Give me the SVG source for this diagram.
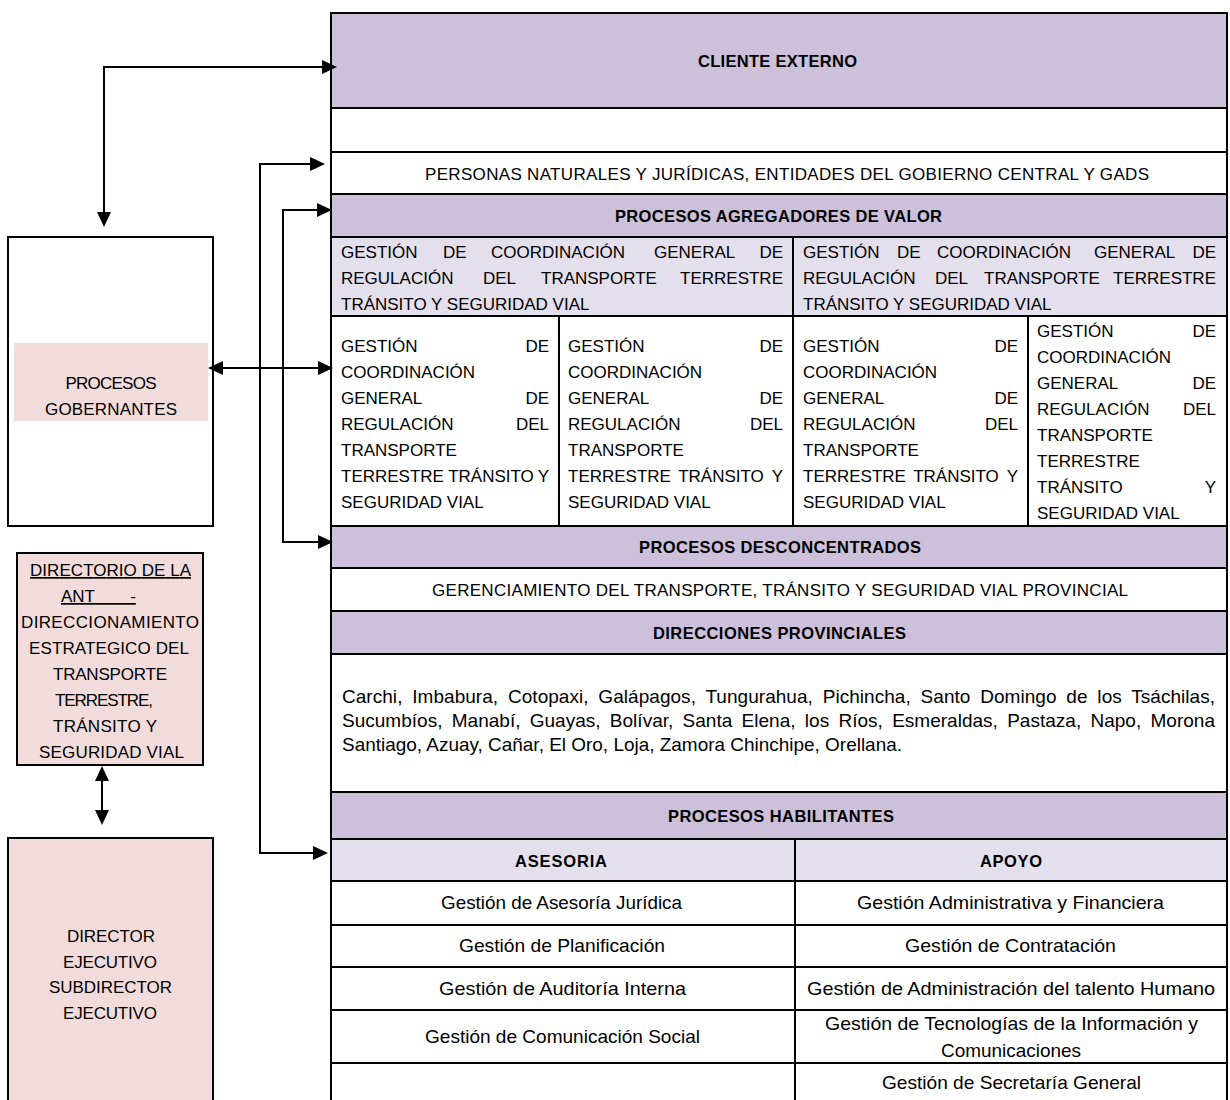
<svg xmlns="http://www.w3.org/2000/svg" width="1230" height="1100" viewBox="0 0 1230 1100">
<defs>
<style>
.t{font-family:"Liberation Sans",Arial,sans-serif;font-size:17px;fill:#000}
.s{font-size:19px}
.b{font-weight:bold;font-size:16.5px}
.m{text-anchor:middle}
.e{text-anchor:end}
.u{text-decoration:underline}
.ln{stroke:#000;stroke-width:2;fill:none}
.pu{fill:#CCC0DA}
.lv{fill:#E4DFEC}
.pk{fill:#F2DCDB}
.wh{fill:#FFFFFF}
</style>
<marker id="ah" markerUnits="userSpaceOnUse" viewBox="0 0 15 14" markerWidth="15" markerHeight="14" refX="11" refY="7" orient="auto-start-reverse"><path d="M0,0 L15,7 L0,14 Z" fill="#000"/></marker>
</defs>
<rect width="1230" height="1100" fill="#FFFFFF"/>

<!-- Left nodes -->
<g id="procesos-gobernantes">
<rect x="8" y="237" width="205" height="289" class="wh ln"/>
<rect x="14" y="343" width="194" height="78" class="pk"/>
<text class="t m" x="111" y="389" textLength="91">PROCESOS</text>
<text class="t m" x="111" y="415" textLength="132">GOBERNANTES</text>
</g>

<g id="directorio">
<rect x="17" y="553" width="186" height="212" class="pk ln"/>
<text class="t m u" x="110.5" y="576" textLength="161">DIRECTORIO DE LA</text>
<text class="t u" x="61" y="602" word-spacing="13" style="white-space:pre">ANT  -</text>
<text class="t m" x="110" y="628" textLength="178">DIRECCIONAMIENTO</text>
<text class="t m" x="109" y="654" textLength="160">ESTRATEGICO DEL</text>
<text class="t m" x="110" y="680" textLength="114">TRANSPORTE</text>
<text class="t m" x="104" y="706" textLength="98">TERRESTRE,</text>
<text class="t m" x="105" y="732" textLength="104">TRÁNSITO Y</text>
<text class="t m" x="111.5" y="758" textLength="145">SEGURIDAD VIAL</text>
</g>

<g id="director-ejecutivo">
<rect x="8" y="838" width="205" height="280" class="pk ln"/>
<text class="t m" x="111" y="942" textLength="88">DIRECTOR</text>
<text class="t m" x="110" y="968" textLength="94">EJECUTIVO</text>
<text class="t m" x="110.5" y="993" textLength="123">SUBDIRECTOR</text>
<text class="t m" x="110" y="1019" textLength="94">EJECUTIVO</text>
</g>

<!-- Table rows -->
<g id="cliente-externo">
<rect x="331" y="13" width="896" height="95" class="pu ln"/>
<text class="t b m" x="777.5" y="67" textLength="159">CLIENTE EXTERNO</text>
</g>
<g id="fila-vacia">
<rect x="331" y="108" width="896" height="44" class="wh ln"/>
</g>
<g id="personas">
<rect x="331" y="152" width="896" height="42" class="wh ln"/>
<text class="t" x="425" y="180" textLength="724">PERSONAS NATURALES Y JURÍDICAS, ENTIDADES DEL GOBIERNO CENTRAL Y GADS</text>
</g>
<g id="agregadores-valor">
<rect x="331" y="194" width="896" height="43" class="pu ln"/>
<text class="t b m" x="778.5" y="222" textLength="327">PROCESOS AGREGADORES DE VALOR</text>
</g>

<g id="gestion-a1">
<rect x="331" y="237" width="462" height="79" class="lv ln"/>
<text class="t" x="341" y="258">GESTIÓN</text><text class="t" x="443" y="258">DE</text><text class="t" x="491" y="258">COORDINACIÓN</text><text class="t" x="654" y="258">GENERAL</text><text class="t e" x="783" y="258">DE</text>
<text class="t" x="341" y="284">REGULACIÓN</text><text class="t" x="483" y="284">DEL</text><text class="t" x="541" y="284">TRANSPORTE</text><text class="t e" x="783" y="284">TERRESTRE</text>
<text class="t" x="341" y="310">TRÁNSITO Y SEGURIDAD VIAL</text>
</g>
<g id="gestion-a2">
<rect x="793" y="237" width="434" height="79" class="lv ln"/>
<text class="t" x="803" y="258">GESTIÓN</text><text class="t" x="897" y="258">DE</text><text class="t" x="937" y="258">COORDINACIÓN</text><text class="t" x="1094" y="258">GENERAL</text><text class="t e" x="1216" y="258">DE</text>
<text class="t" x="803" y="284">REGULACIÓN</text><text class="t" x="935" y="284">DEL</text><text class="t" x="984" y="284">TRANSPORTE</text><text class="t e" x="1216" y="284">TERRESTRE</text>
<text class="t" x="803" y="310">TRÁNSITO Y SEGURIDAD VIAL</text>
</g>

<g id="gestion-b1">
<rect x="331" y="316" width="228" height="210" class="wh ln"/>
<text class="t" x="341" y="352">GESTIÓN</text><text class="t e" x="549" y="352">DE</text>
<text class="t" x="341" y="378">COORDINACIÓN</text>
<text class="t" x="341" y="404">GENERAL</text><text class="t e" x="549" y="404">DE</text>
<text class="t" x="341" y="430">REGULACIÓN</text><text class="t e" x="549" y="430">DEL</text>
<text class="t" x="341" y="456">TRANSPORTE</text>
<text class="t" x="341" y="482">TERRESTRE</text><text class="t m" x="491" y="482">TRÁNSITO</text><text class="t e" x="549" y="482">Y</text>
<text class="t" x="341" y="508">SEGURIDAD VIAL</text>
</g>
<g id="gestion-b2">
<rect x="559" y="316" width="234" height="210" class="wh ln"/>
<text class="t" x="568" y="352">GESTIÓN</text><text class="t e" x="783" y="352">DE</text>
<text class="t" x="568" y="378">COORDINACIÓN</text>
<text class="t" x="568" y="404">GENERAL</text><text class="t e" x="783" y="404">DE</text>
<text class="t" x="568" y="430">REGULACIÓN</text><text class="t e" x="783" y="430">DEL</text>
<text class="t" x="568" y="456">TRANSPORTE</text>
<text class="t" x="568" y="482">TERRESTRE</text><text class="t m" x="721" y="482">TRÁNSITO</text><text class="t e" x="783" y="482">Y</text>
<text class="t" x="568" y="508">SEGURIDAD VIAL</text>
</g>
<g id="gestion-b3">
<rect x="793" y="316" width="235" height="210" class="wh ln"/>
<text class="t" x="803" y="352">GESTIÓN</text><text class="t e" x="1018" y="352">DE</text>
<text class="t" x="803" y="378">COORDINACIÓN</text>
<text class="t" x="803" y="404">GENERAL</text><text class="t e" x="1018" y="404">DE</text>
<text class="t" x="803" y="430">REGULACIÓN</text><text class="t e" x="1018" y="430">DEL</text>
<text class="t" x="803" y="456">TRANSPORTE</text>
<text class="t" x="803" y="482">TERRESTRE</text><text class="t m" x="956" y="482">TRÁNSITO</text><text class="t e" x="1018" y="482">Y</text>
<text class="t" x="803" y="508">SEGURIDAD VIAL</text>
</g>
<g id="gestion-b4">
<rect x="1028" y="316" width="199" height="210" class="wh ln"/>
<text class="t" x="1037" y="337">GESTIÓN</text><text class="t e" x="1216" y="337">DE</text>
<text class="t" x="1037" y="363">COORDINACIÓN</text>
<text class="t" x="1037" y="389">GENERAL</text><text class="t e" x="1216" y="389">DE</text>
<text class="t" x="1037" y="415">REGULACIÓN</text><text class="t e" x="1216" y="415">DEL</text>
<text class="t" x="1037" y="441">TRANSPORTE</text>
<text class="t" x="1037" y="467">TERRESTRE</text>
<text class="t" x="1037" y="493">TRÁNSITO</text><text class="t e" x="1216" y="493">Y</text>
<text class="t" x="1037" y="519">SEGURIDAD VIAL</text>
</g>

<g id="desconcentrados">
<rect x="331" y="526" width="896" height="42" class="pu ln"/>
<text class="t b m" x="780" y="553" textLength="282">PROCESOS DESCONCENTRADOS</text>
</g>
<g id="gerenciamiento">
<rect x="331" y="568" width="896" height="43" class="wh ln"/>
<text class="t" x="432" y="596" textLength="696">GERENCIAMIENTO DEL TRANSPORTE, TRÁNSITO Y SEGURIDAD VIAL PROVINCIAL</text>
</g>
<g id="direcciones-provinciales">
<rect x="331" y="611" width="896" height="43" class="pu ln"/>
<text class="t b m" x="779.5" y="639" textLength="253">DIRECCIONES PROVINCIALES</text>
</g>
<g id="provincias">
<rect x="331" y="654" width="896" height="138" class="wh ln"/>
<text class="t s" x="342" y="703" word-spacing="4.5" textLength="873">Carchi, Imbabura, Cotopaxi, Galápagos, Tungurahua, Pichincha, Santo Domingo de los Tsáchilas,</text>
<text class="t s" x="342" y="727" word-spacing="4" textLength="873">Sucumbíos, Manabí, Guayas, Bolívar, Santa Elena, los Ríos, Esmeraldas, Pastaza, Napo, Morona</text>
<text class="t s" x="342" y="751" textLength="560" lengthAdjust="spacingAndGlyphs">Santiago, Azuay, Cañar, El Oro, Loja, Zamora Chinchipe, Orellana.</text>
</g>

<g id="habilitantes">
<rect x="331" y="792" width="896" height="47" class="pu ln"/>
<text class="t b m" x="781" y="822" textLength="226">PROCESOS HABILITANTES</text>
</g>
<g id="asesoria">
<rect x="331" y="839" width="464" height="42" class="lv ln"/>
<text class="t b m" x="561" y="867" textLength="92">ASESORIA</text>
<rect x="331" y="881" width="464" height="44" class="wh ln"/>
<text class="t s m" x="561.5" y="909" textLength="241" lengthAdjust="spacingAndGlyphs">Gestión de Asesoría Jurídica</text>
<rect x="331" y="925" width="464" height="42" class="wh ln"/>
<text class="t s m" x="562" y="952" textLength="206" lengthAdjust="spacingAndGlyphs">Gestión de Planificación</text>
<rect x="331" y="967" width="464" height="43" class="wh ln"/>
<text class="t s m" x="562.5" y="995" textLength="247" lengthAdjust="spacingAndGlyphs">Gestión de Auditoría Interna</text>
<rect x="331" y="1010" width="464" height="53" class="wh ln"/>
<text class="t s m" x="562.5" y="1043" textLength="275" lengthAdjust="spacingAndGlyphs">Gestión de Comunicación Social</text>
<rect x="331" y="1063" width="464" height="60" class="wh ln"/>
</g>
<g id="apoyo">
<rect x="795" y="839" width="432" height="42" class="lv ln"/>
<text class="t b m" x="1011" y="867" textLength="62">APOYO</text>
<rect x="795" y="881" width="432" height="44" class="wh ln"/>
<text class="t s m" x="1010.5" y="909" textLength="307" lengthAdjust="spacingAndGlyphs">Gestión Administrativa y Financiera</text>
<rect x="795" y="925" width="432" height="42" class="wh ln"/>
<text class="t s m" x="1010.5" y="952" textLength="211" lengthAdjust="spacingAndGlyphs">Gestión de Contratación</text>
<rect x="795" y="967" width="432" height="43" class="wh ln"/>
<text class="t s m" x="1011" y="995" textLength="408" lengthAdjust="spacingAndGlyphs">Gestión de Administración del talento Humano</text>
<rect x="795" y="1010" width="432" height="53" class="wh ln"/>
<text class="t s m" x="1011.5" y="1030" textLength="373" lengthAdjust="spacingAndGlyphs">Gestión de Tecnologías de la Información y</text>
<text class="t s m" x="1011" y="1057" textLength="140" lengthAdjust="spacingAndGlyphs">Comunicaciones</text>
<rect x="795" y="1063" width="432" height="60" class="wh ln"/>
<text class="t s m" x="1011.5" y="1089" textLength="259" lengthAdjust="spacingAndGlyphs">Gestión de Secretaría General</text>
</g>

<!-- Connectors -->
<g id="connectors" class="ln">
<path d="M104,223 L104,67 L333,67" marker-start="url(#ah)" marker-end="url(#ah)"/>
<path d="M321,164 L260,164 L260,853 L324,853" marker-start="url(#ah)" marker-end="url(#ah)"/>
<path d="M328,210 L283,210 L283,542 L329,542" marker-start="url(#ah)" marker-end="url(#ah)"/>
<path d="M212,368 L329,368" marker-start="url(#ah)" marker-end="url(#ah)"/>
<path d="M102,770 L102,821" marker-start="url(#ah)" marker-end="url(#ah)"/>
</g>
</svg>
